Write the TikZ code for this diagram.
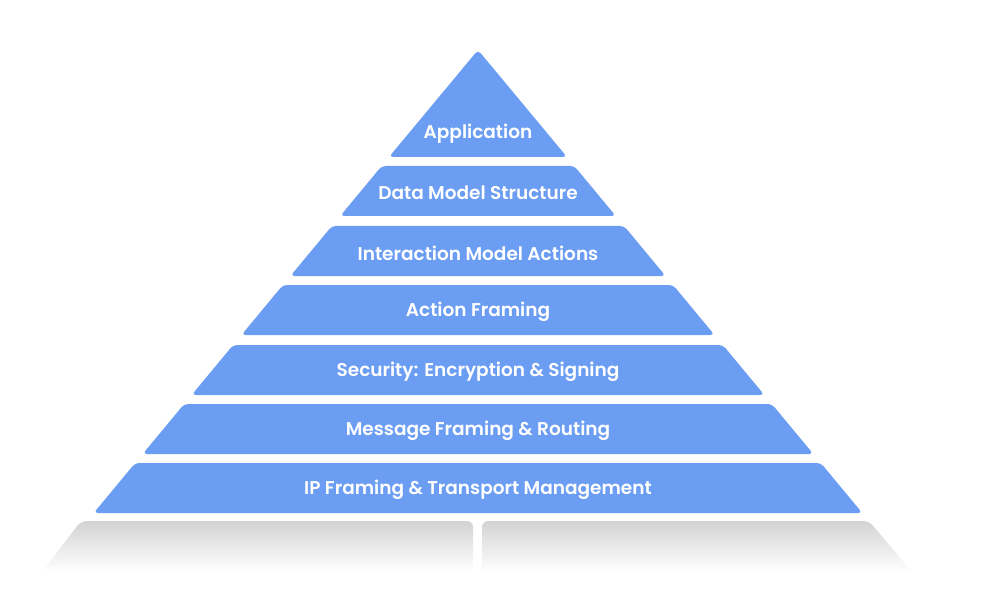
\documentclass[tikz,border=0pt]{standalone}
\usepackage{fontspec}
\setmainfont{Poppins}[BoldFont={Poppins SemiBold}]
\definecolor{layerblue}{RGB}{107,157,243}
\definecolor{basegrey}{RGB}{210,211,212}
\begin{document}
\begin{tikzpicture}[x=1pt,y=-1pt,line join=round,
  layer/.style={fill=layerblue,rounded corners=4pt},
  base/.style={top color=basegrey,bottom color=white,rounded corners=6pt},
  label/.style={text=white,font=\fontsize{18.5}{22}\selectfont\bfseries}]
  \useasboundingbox (0,0) rectangle (989,599);
  \coordinate (apex) at (478,50);

  % top triangle
  \fill[layer] (apex) -- (478+89,157) -- (478-89,157) -- cycle;
  \node[label] (app) at (478,134) {Application};

  % the bands below it
  \foreach \t/\txt/\name in {166/Data Model Structure/data,
      226/Interaction Model Actions/inter,
      285/Action Framing/act,
      345/Security: Encryption \& Signing/sec,
      404/Message Framing \& Routing/msg,
      463/IP Framing \& Transport Management/ip} {
    \pgfmathsetmacro\b{\t+50}
    \pgfmathsetmacro\wt{0.83*(\t-50)}
    \pgfmathsetmacro\wb{0.83*(\b-50)}
    \fill[layer] (478-\wb,\b) -- (478-\wt,\t) -- (478+\wt,\t)
      -- (478+\wb,\b) -- cycle;
    \node[label] (\name) at (478,\t+27) {\txt};
  }

  % grey base
  \shade[base] (42,572) -- (81,521) -- (473,521) -- (473,572) -- cycle;
  \shade[base] (482,572) -- (482,521) -- (869,521) -- (912,572) -- cycle;
\end{tikzpicture}
\end{document}
